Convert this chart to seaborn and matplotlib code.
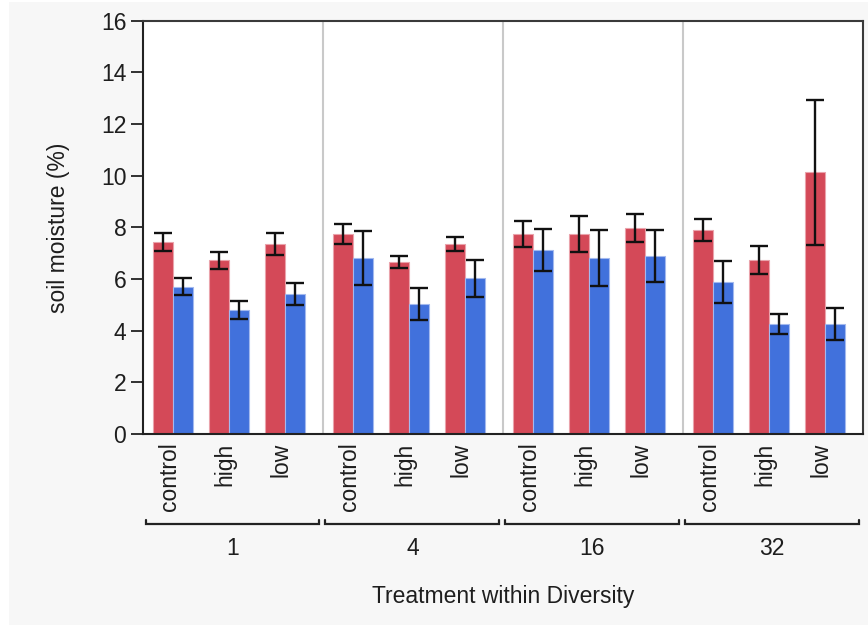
import matplotlib
matplotlib.use("Agg")
import matplotlib.pyplot as plt
import matplotlib.transforms as mtransforms
from matplotlib.patches import Rectangle
import numpy as np
import pandas as pd
import seaborn as sns

# ---- data -------------------------------------------------------------
diversity = ["1", "4", "16", "32"]
treatments = ["control", "high", "low"]

red_mean = [7.43, 6.73, 7.35, 7.74, 6.65, 7.35, 7.74, 7.74, 7.97, 7.89, 6.73, 10.13]
red_err = [0.35, 0.33, 0.43, 0.40, 0.23, 0.27, 0.50, 0.70, 0.55, 0.43, 0.55, 2.80]
blue_mean = [5.71, 4.79, 5.41, 6.81, 5.03, 6.02, 7.12, 6.81, 6.89, 5.88, 4.25, 4.25]
blue_err = [0.33, 0.35, 0.42, 1.05, 0.63, 0.70, 0.80, 1.07, 1.00, 0.82, 0.38, 0.62]

series = ["A", "B"]
colors = {"A": "#d44958", "B": "#4171dc"}
edge_colors = {"A": "#eaa3ab", "B": "#a3b9ee"}

# ---- layout of the nested categorical axis ----------------------------
SLOT = 1.0                 # spacing between treatments
GROUP = 180.0 / 56.0       # spacing between diversity groups
LEFT_PAD = 30.3 / 56.0     # gap between group boundary and first pair

rows = []
for gi, g in enumerate(diversity):
    for ti, t in enumerate(treatments):
        k = gi * len(treatments) + ti
        pos = gi * GROUP + ti * SLOT
        rows.append(dict(pos=pos, diversity=g, treatment=t, series="A",
                         value=red_mean[k], err=red_err[k]))
        rows.append(dict(pos=pos, diversity=g, treatment=t, series="B",
                         value=blue_mean[k], err=blue_err[k]))
df = pd.DataFrame(rows)

# ---- figure -----------------------------------------------------------
sns.set_theme(style="white")
plt.rcParams["font.family"] = ["Liberation Sans", "DejaVu Sans"]
FS = 16.5
TXT = "#1e1e1e"

fig = plt.figure(figsize=(8.68, 6.25), dpi=100, facecolor="white")
fig.patches.append(Rectangle((9 / 868, 0), 1, 1 - 2 / 625, transform=fig.transFigure,
                             facecolor="#f7f7f7", edgecolor="none", zorder=-10))
ax = fig.add_axes([143 / 868, 191 / 625, 719.7 / 868, 413.3 / 625])
ax.set_facecolor("white")

sns.barplot(data=df, x="pos", y="value", hue="series", hue_order=series,
            palette=colors, native_scale=True, width=40 / 56, errorbar=None,
            legend=False, saturation=1, ax=ax, zorder=2)

# edges + error bars taken from the bars seaborn drew
for cont, s in zip(ax.containers, series):
    sub = df[df.series == s].sort_values("pos")
    xs, ys = [], []
    for bar in cont:
        bar.set_edgecolor(edge_colors[s])
        bar.set_linewidth(0.8)
        xs.append(bar.get_x() + bar.get_width() / 2)
        ys.append(bar.get_height())
    ax.errorbar(xs, ys, yerr=sub["err"].to_numpy(), fmt="none", ecolor="#111111",
                elinewidth=1.7, capsize=6.5, capthick=1.7, zorder=4)

# axes ranges
x0 = -LEFT_PAD
x1 = x0 + len(diversity) * GROUP
ax.set_xlim(x0, x1)
ax.set_ylim(0, 16)

# group separators
for gi in range(1, len(diversity)):
    ax.axvline(x0 + gi * GROUP, color="#c9c9c9", lw=1.5, zorder=1)

# y axis
ax.set_yticks(np.arange(0, 17, 2))
ax.tick_params(axis="y", direction="out", length=9, width=1.3, color="#222222",
               pad=3, labelsize=FS, labelcolor=TXT, left=True)
ax.set_ylabel("soil moisture (%)", fontsize=FS, color=TXT)
ax.yaxis.set_label_coords(-0.117, 0.5)
ax.yaxis.label.set_va("center")

# x axis: treatment labels
tick_pos = df.drop_duplicates("pos")["pos"].to_numpy()
tick_lab = df.drop_duplicates("pos")["treatment"].tolist()
ax.set_xticks(tick_pos)
ax.set_xticklabels(tick_lab, rotation=90, va="top", ha="center")
ax.tick_params(axis="x", length=0, pad=6, labelsize=FS, labelcolor=TXT, bottom=True)
shift = mtransforms.ScaledTranslation(-4 / 100, 0, fig.dpi_scale_trans)
for lab in ax.get_xticklabels():
    lab.set_transform(lab.get_transform() + shift)

# spines
for side, sp in ax.spines.items():
    sp.set_visible(True)
    sp.set_linewidth(1.5)
    sp.set_color("#222222" if side in ("left", "bottom") else "#3a3a3a")
    sp.set_zorder(5)

# diversity brackets and labels
blend = mtransforms.blended_transform_factory(ax.transData, ax.transAxes)
px = (x1 - x0) / 719.7
y_br = (434 - 524) / 413.3
y_end = (434 - 519.5) / 413.3
y_grp = (434 - 548.5) / 413.3
for gi, g in enumerate(diversity):
    a = x0 + gi * GROUP + 2.5 * px
    b = x0 + (gi + 1) * GROUP - 3.5 * px
    ax.plot([a, a, b, b], [y_end, y_br, y_br, y_end], transform=blend,
            color="#222222", lw=1.6, clip_on=False, solid_joinstyle="miter")
    ax.text((a + b) / 2, y_grp, g, transform=blend, ha="center", va="center",
            fontsize=FS, color=TXT)

ax.set_xlabel("Treatment within Diversity", fontsize=FS, color=TXT)
ax.xaxis.set_label_coords(0.5, (434 - 597) / 413.3)
ax.xaxis.label.set_va("center")

fig.savefig("out.png", dpi=100, facecolor=fig.get_facecolor())
